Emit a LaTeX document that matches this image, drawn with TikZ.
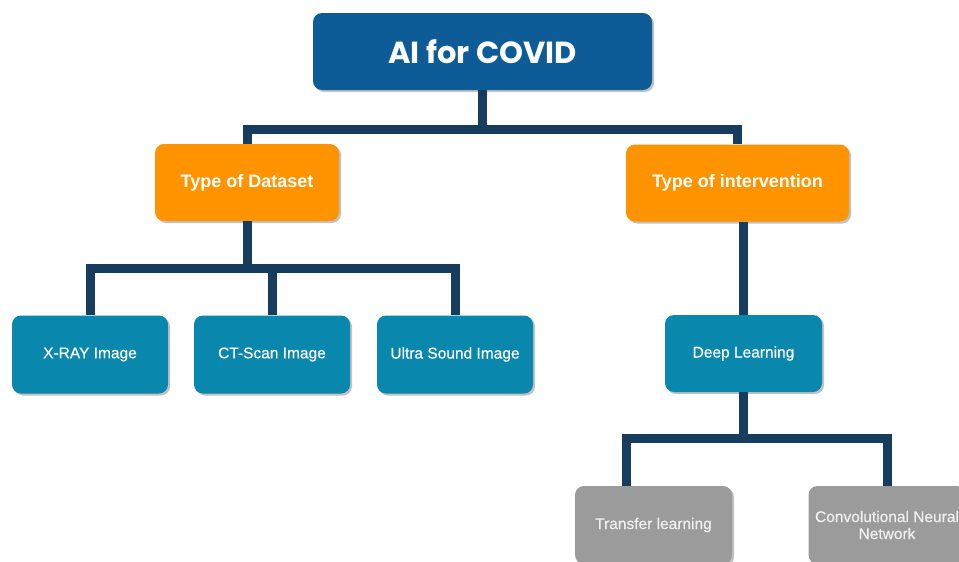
\documentclass[tikz,border=0pt]{standalone}
\usepackage{fontspec}
\setmainfont{Liberation Sans}
\newfontfamily\titlefont{Poppins}
\newfontfamily\labelfont[FakeBold=0.5]{Liberation Sans}
\usetikzlibrary{shadows}

\definecolor{rootblue}{HTML}{0D5C97}
\definecolor{typeorange}{HTML}{FF9300}
\definecolor{leafteal}{HTML}{0A87AD}
\definecolor{methodgray}{HTML}{9B9B9B}
\definecolor{linknavy}{HTML}{173D5E}

\begin{document}
\begin{tikzpicture}[
    x=1pt, y=-1pt, % Work in pixel-like units, y pointing down
    box/.style={rounded corners=9pt, text=white, align=center, inner sep=0pt,
        drop shadow={shadow xshift=2pt, shadow yshift=-2pt, opacity=0.35, fill=black!70}},
    rootbox/.style={box, fill=rootblue, minimum width=339pt, minimum height=77pt,
        font=\titlefont\bfseries\fontsize{30.5}{36}\selectfont},
    typebox/.style={box, fill=typeorange, minimum height=77pt,
        font=\bfseries\fontsize{18}{22}\selectfont},
    leafbox/.style={box, fill=leafteal, minimum width=156pt, minimum height=78pt,
        font=\labelfont\fontsize{15.5}{18}\selectfont},
    methodbox/.style={box, fill=methodgray, text=white!94!black, minimum width=157pt,
        minimum height=78pt, font=\labelfont\fontsize{15.5}{17}\selectfont},
    link/.style={draw=linknavy, line width=9pt} % Thick elbow connectors
]
\useasboundingbox (0,0) rectangle (959,562);

% Root
\node[rootbox] (root) at (482.5,51.5) {AI for COVID};

% Second level
\node[typebox, minimum width=184pt] (dataset) at (247,182.5) {Type of Dataset};
\node[typebox, minimum width=223pt] (intervention) at (737.5,183) {Type of intervention};

% Dataset kinds
\node[leafbox] (xray) at (90,354.5) {X-RAY Image};
\node[leafbox] (ctscan) at (272,354.5) {CT-Scan Image};
\node[leafbox] (ultrasound) at (455,354.5) {Ultra Sound Image};

% Intervention branch
\node[leafbox, minimum width=157pt, minimum height=77pt] (deep) at (743.5,353.5) {Deep Learning};
\node[methodbox] (transfer) at (653.5,525) {Transfer learning};
\node[methodbox] (cnn) at (887,525) {Convolutional Neural\\Network};

% Connectors from the root
\draw[link] (root.south) -- ++(0,39) coordinate (topbus) -| (dataset.north);
\draw[link] (topbus) -| (intervention.north);

% Connectors under the dataset box
\draw[link] (dataset.south) -- ++(0,47) coordinate (databus) -| (xray.north);
\draw[link] (databus) -| (ctscan.north);
\draw[link] (databus) -| (ultrasound.north);

% Connectors under the intervention box
\draw[link] (deep.north) -- (deep.north |- intervention.south);
\draw[link] (deep.south) -- ++(0,46) coordinate (deepbus) -| ([xshift=-27pt]transfer.north);
\draw[link] (deepbus) -| (cnn.north);

\end{tikzpicture}
\end{document}
